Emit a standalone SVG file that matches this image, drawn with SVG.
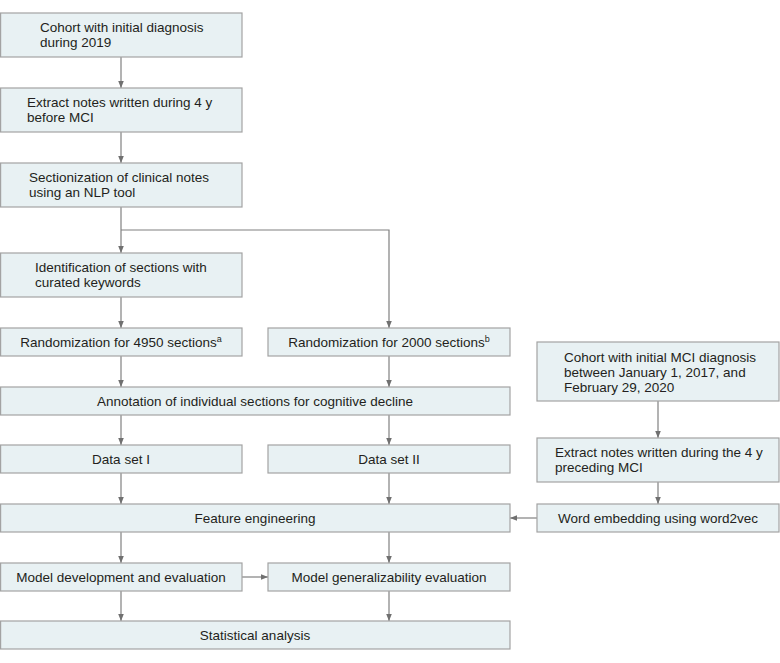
<svg xmlns="http://www.w3.org/2000/svg" width="780" height="663" viewBox="0 0 780 663">
<defs>
<marker id="ah" markerUnits="userSpaceOnUse" markerWidth="8" markerHeight="8" refX="7" refY="3.5" orient="auto">
<path d="M0,0.7 L7,3.5 L0,6.3 Z" fill="#707070"/>
</marker>
<style>
.b{fill:#e8f1f3;stroke:#a3a3a3;stroke-width:1.2}
.t{font-family:"Liberation Sans Narrow","Liberation Sans",Arial,sans-serif;font-size:13.5px;fill:#231f20}
.c{text-anchor:middle}
.k{fill:none;stroke:#808080;stroke-width:1.2}
.a{marker-end:url(#ah)}
.s{font-size:9px}
</style>
</defs>
<rect width="780" height="663" fill="#ffffff"/>
<g id="connectors">
<line class="k a" x1="121" y1="57" x2="121" y2="88"/>
<line class="k a" x1="121" y1="132" x2="121" y2="163"/>
<line class="k a" x1="121" y1="207" x2="121" y2="253"/>
<polyline class="k a" points="121,230 389,230 389,328"/>
<line class="k a" x1="121" y1="297" x2="121" y2="328"/>
<line class="k a" x1="121" y1="356" x2="121" y2="387"/>
<line class="k a" x1="389" y1="356" x2="389" y2="387"/>
<line class="k a" x1="121" y1="415" x2="121" y2="445"/>
<line class="k a" x1="389" y1="415" x2="389" y2="445"/>
<line class="k a" x1="121" y1="473" x2="121" y2="504"/>
<line class="k a" x1="389" y1="473" x2="389" y2="504"/>
<line class="k a" x1="121" y1="532" x2="121" y2="563"/>
<line class="k a" x1="389" y1="532" x2="389" y2="563"/>
<line class="k a" x1="121" y1="591" x2="121" y2="621"/>
<line class="k a" x1="389" y1="591" x2="389" y2="621"/>
<line class="k a" x1="242" y1="577" x2="268" y2="577"/>
<line class="k a" x1="658" y1="401" x2="658" y2="438"/>
<line class="k a" x1="658" y1="482" x2="658" y2="504"/>
<line class="k a" x1="537" y1="518" x2="510" y2="518"/>
</g>
<g id="n1"><rect class="b" x="0.6" y="13" width="241.4" height="44"/>
<text class="t" x="40" y="32">Cohort with initial diagnosis</text><text class="t" x="40" y="47">during 2019</text></g>
<g id="n2"><rect class="b" x="0.6" y="88" width="241.4" height="44"/>
<text class="t" x="27" y="107">Extract notes written during 4 y</text><text class="t" x="27" y="122">before MCI</text></g>
<g id="n3"><rect class="b" x="0.6" y="163" width="241.4" height="44"/>
<text class="t" x="29" y="182">Sectionization of clinical notes</text><text class="t" x="29" y="197">using an NLP tool</text></g>
<g id="n4"><rect class="b" x="0.6" y="253" width="241.4" height="44"/>
<text class="t" x="35" y="272">Identification of sections with</text><text class="t" x="35" y="287">curated keywords</text></g>
<g id="n5"><rect class="b" x="0.6" y="328" width="241.4" height="28"/>
<text class="t c" x="121" y="347">Randomization for 4950 sections<tspan class="s" dy="-5">a</tspan></text></g>
<g id="n6"><rect class="b" x="268" y="328" width="242" height="28"/>
<text class="t c" x="389" y="347">Randomization for 2000 sections<tspan class="s" dy="-5">b</tspan></text></g>
<g id="n7"><rect class="b" x="0.6" y="387" width="509.4" height="28"/>
<text class="t c" x="255" y="406">Annotation of individual sections for cognitive decline</text></g>
<g id="n8"><rect class="b" x="0.6" y="445" width="241.4" height="28"/>
<text class="t c" x="121" y="464">Data set I</text></g>
<g id="n9"><rect class="b" x="268" y="445" width="242" height="28"/>
<text class="t c" x="389" y="464">Data set II</text></g>
<g id="n10"><rect class="b" x="0.6" y="504" width="509.4" height="28"/>
<text class="t c" x="255" y="523">Feature engineering</text></g>
<g id="n11"><rect class="b" x="0.6" y="563" width="241.4" height="28"/>
<text class="t c" x="121" y="582">Model development and evaluation</text></g>
<g id="n12"><rect class="b" x="268" y="563" width="242" height="28"/>
<text class="t c" x="389" y="582">Model generalizability evaluation</text></g>
<g id="n13"><rect class="b" x="0.6" y="621" width="509.4" height="28"/>
<text class="t c" x="255" y="640">Statistical analysis</text></g>
<g id="n14"><rect class="b" x="537" y="342" width="242" height="59"/>
<text class="t" x="564" y="362">Cohort with initial MCI diagnosis</text><text class="t" x="564" y="377">between January 1, 2017, and</text><text class="t" x="564" y="392">February 29, 2020</text></g>
<g id="n15"><rect class="b" x="537" y="438" width="242" height="44"/>
<text class="t" x="555" y="457">Extract notes written during the 4 y</text><text class="t" x="555" y="472">preceding MCI</text></g>
<g id="n16"><rect class="b" x="537" y="504" width="242" height="28"/>
<text class="t c" x="658" y="523">Word embedding using word2vec</text></g>
</svg>
